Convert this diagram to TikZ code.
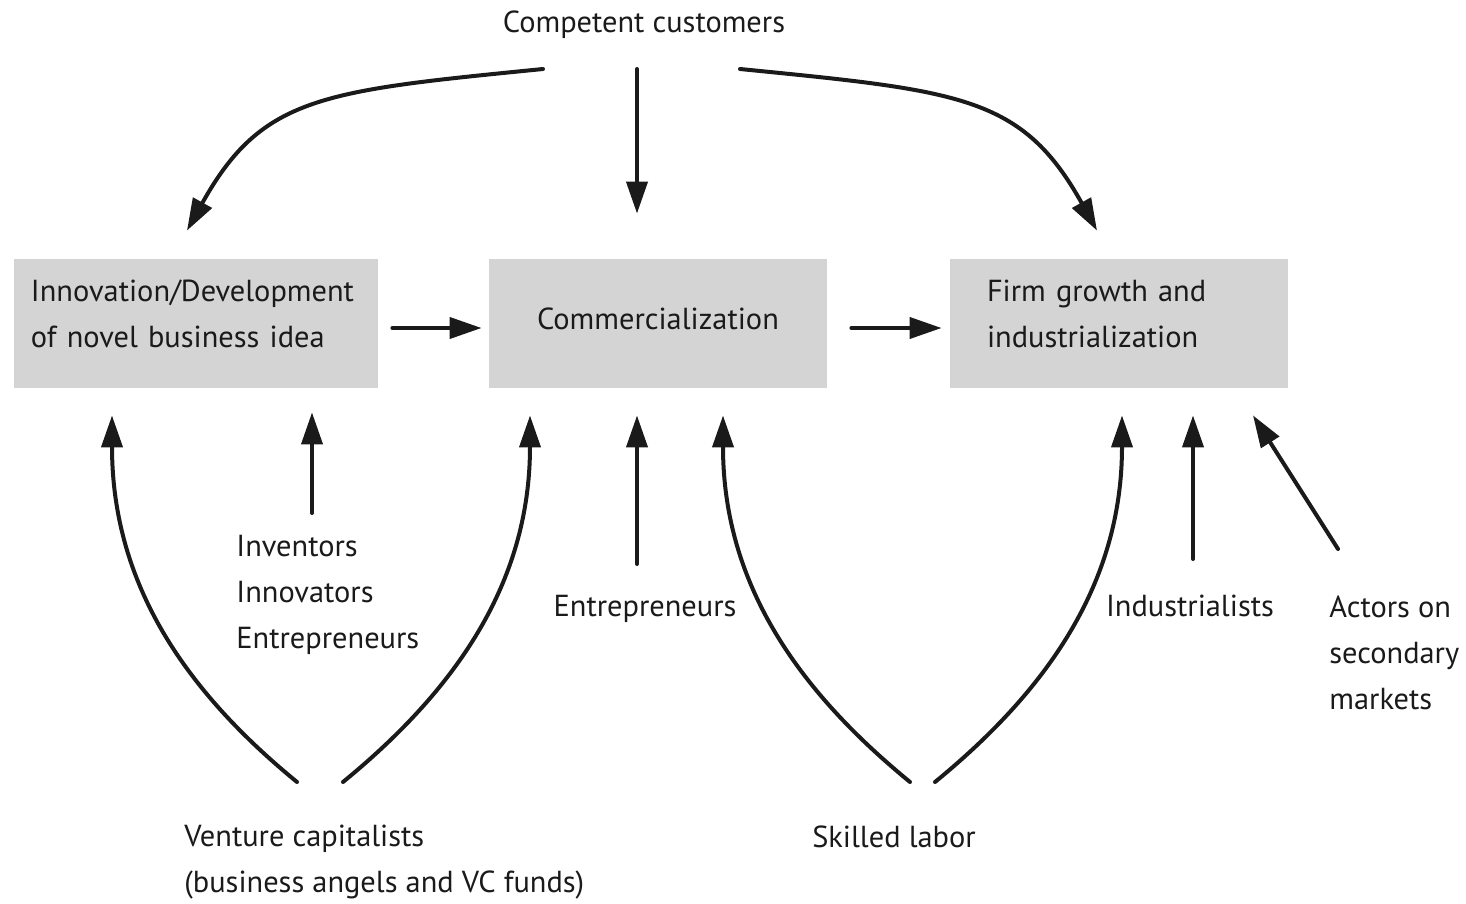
\documentclass[tikz,border=0pt]{standalone}
\usepackage{fontspec}
\setmainfont{PT Sans}
\usepackage{xcolor}
\usepackage{tikz}
\usetikzlibrary{calc,arrows.meta}
\definecolor{boxbg}{HTML}{D4D4D4}
\definecolor{ink}{HTML}{1A1A1A}
\tikzset{
  flow/.style={draw=ink, line width=2pt, line cap=round, -{Triangle[length=16pt,width=10.5pt]}},
  stage/.style={fill=boxbg, inner ysep=0pt, minimum height=64.5pt, text=ink, font=\fontsize{15.2}{23}\selectfont},
  actor/.style={text=ink, inner sep=0pt, align=left, yshift=-1.5pt, font=\fontsize{15.2}{23}\selectfont},
}
\begin{document}
\begin{tikzpicture}[x=0.5pt,y=-0.5pt]
  \useasboundingbox (0,0) rectangle (1466,904);
  % stages
  \node[stage, minimum width=182pt, text width=165pt, inner xsep=8.5pt, text depth=32.5pt, align=left] (innov) at (196,323.5)
    {Innovation/Development\\of novel business idea};
  \node[stage, minimum width=169pt, text width=169pt, inner xsep=0pt, text depth=5pt, align=center] (comm) at (658,323.5)
    {Commercialization};
  \node[stage, minimum width=169pt, text width=132pt, inner xsep=18.5pt, text depth=32.5pt, align=left] (growth) at (1119,323.5)
    {Firm growth and\\industrialization};
  % actors
  \node[actor] (cust) at (644,22) {Competent customers};
  \node[actor, anchor=west] (inv) at (236,592) {Inventors\\Innovators\\Entrepreneurs};
  \node[actor] (entr) at (645,606) {Entrepreneurs};
  \node[actor] (indus) at (1190,603) {Industrialists};
  \node[actor, anchor=west] (actors) at (1329,650) {Actors on\\secondary\\markets};
  \node[actor, anchor=west] (vc) at (184,859.5) {Venture capitalists\\(business angels and VC funds)};
  \node[actor] (skill) at (894,834) {Skilled labor};
  % stage to stage
  \draw[flow] ($(innov.east)+(14,4.5)$) -- ($(comm.west)+(-7,4.5)$);
  \draw[flow] ($(comm.east)+(24,4.5)$) -- ($(growth.west)+(-8,4.5)$);
  % customers
  \draw[flow] ($(cust.center)+(-101,44)$) .. controls +(-220,22) and +(75,-135) .. ($(innov.north)+(-9,-28)$);
  \draw[flow] ($(cust.center)+(-7,44)$) -- ($(comm.north)+(-21,-45)$);
  \draw[flow] ($(cust.center)+(96,44)$) .. controls +(220,22) and +(-75,-135) .. ($(growth.north)+(-22,-28)$);
  % venture capital
  \draw[flow] ($(vc.west)+(113,-80.5)$) .. controls +(-110,-90) and +(0,170) .. ($(innov.south)+(-84,27)$);
  \draw[flow] ($(vc.west)+(159,-80.5)$) .. controls +(110,-90) and +(0,170) .. ($(comm.south)+(-128,27)$);
  % skilled labor
  \draw[flow] ($(skill.center)+(16,-55)$) .. controls +(-110,-90) and +(0,170) .. ($(comm.south)+(65,27)$);
  \draw[flow] ($(skill.center)+(41,-55)$) .. controls +(110,-90) and +(0,170) .. ($(growth.south)+(3,27)$);
  % straight inputs
  \draw[flow] ($(inv.west)+(76,-82)$) -- ($(innov.south)+(116,24)$);
  \draw[flow] ($(entr.center)+(-8,-45)$) -- ($(comm.south)+(-21,27)$);
  \draw[flow] ($(indus.center)+(3,-47)$) -- ($(growth.south)+(74,27)$);
  \draw[flow] ($(actors.west)+(9,-104)$) -- ($(growth.south)+(134,27)$);
\end{tikzpicture}
\end{document}
